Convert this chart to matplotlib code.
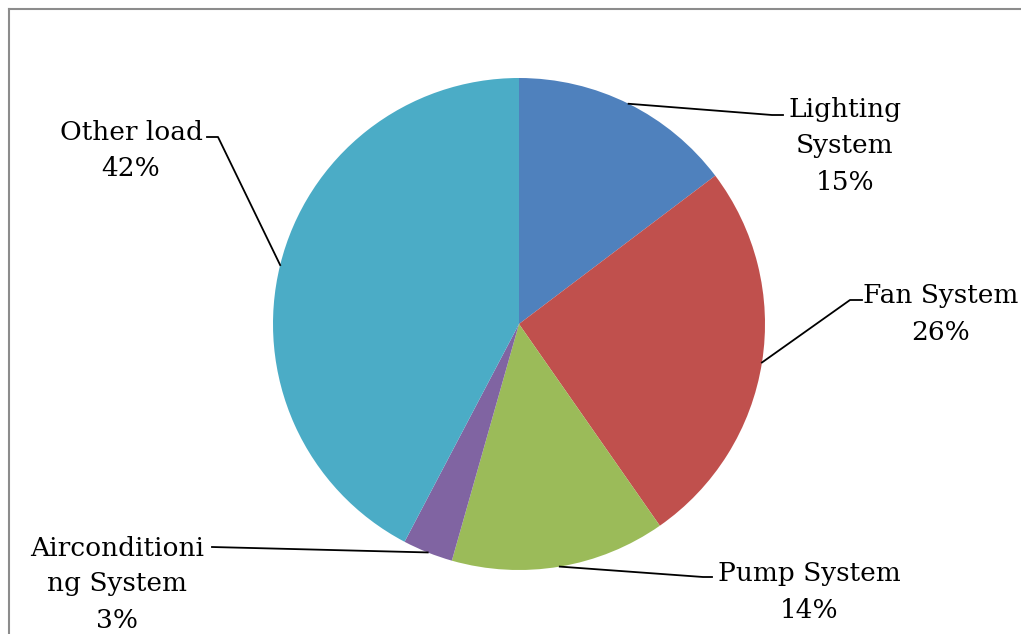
import numpy as np
import matplotlib
matplotlib.use("Agg")
import matplotlib.pyplot as plt
from matplotlib.lines import Line2D

# --------------------------------------------------------------------------
# Data
# --------------------------------------------------------------------------
categories = ["Lighting\nSystem", "Fan System", "Pump System",
              "Airconditioni\nng System", "Other load"]
shares = [14.7, 25.6, 14.1, 3.3, 42.3]
colors = ["#4F81BD", "#C0504D", "#9BBB59", "#8064A2", "#4BACC6"]

# label block centres and leader elbows, in figure pixels (from top-left)
W, H = 1021, 634
CX, CY, R = 519, 324, 246
label_xy = [(845, 146), (941, 314), (809, 592), (117, 584), (131, 151)]
elbows = [[(772, 115), (783, 115)],
          [(850, 300), (862, 300)],
          [(703, 577), (712, 577)],
          [(212, 547)],
          [(218, 137), (207, 137)]]

plt.rcParams["font.family"] = ["DejaVu Serif"]

fig = plt.figure(figsize=(W / 100, H / 100), dpi=100)
ax = fig.add_axes([(CX - R) / W, (H - CY - R) / H, 2 * R / W, 2 * R / H])
wedges, _ = ax.pie(shares, colors=colors, startangle=90, counterclock=False,
                   radius=1.0, wedgeprops=dict(linewidth=0))
ax.set_xlim(-1, 1)
ax.set_ylim(-1, 1)
ax.set_aspect("equal")
ax.axis("off")


def px2data(px, py):
    return (px - CX) / R, (CY - py) / R


for w, name, val, (lx, ly), elb in zip(wedges, categories, shares,
                                        label_xy, elbows):
    mid = np.deg2rad((w.theta1 + w.theta2) / 2)
    pts = [(np.cos(mid), np.sin(mid))] + [px2data(*p) for p in elb]
    xs, ys = zip(*pts)
    ax.plot(xs, ys, color="black", lw=1.3, clip_on=False)
    tx, ty = px2data(lx, ly)
    ax.text(tx, ty, f"{name}\n{val:.0f}%", ha="center", va="center",
            multialignment="center", fontsize=19, linespacing=1.55,
            clip_on=False)

# chart-area border (only top and left visible in the crop)
fig.add_artist(Line2D([9 / W, 9 / W], [0, 1 - 9 / H], transform=fig.transFigure,
                      color="#8c8c8c", lw=1.5))
fig.add_artist(Line2D([9 / W, 1], [1 - 9 / H, 1 - 9 / H], transform=fig.transFigure,
                      color="#8c8c8c", lw=1.5))

fig.savefig("out.png", dpi=100)
